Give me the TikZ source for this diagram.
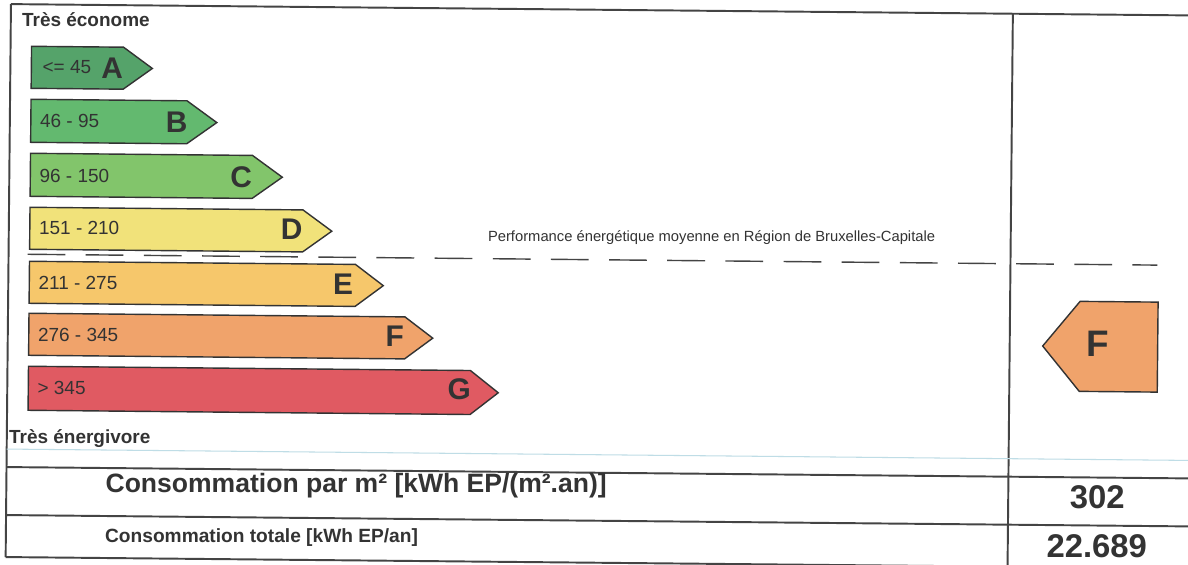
\documentclass[tikz,border=0pt]{standalone}
\usepackage{fontspec}
\setmainfont{Liberation Sans}
\definecolor{colA}{HTML}{55A36A}
\definecolor{colB}{HTML}{63B96F}
\definecolor{colC}{HTML}{82C56B}
\definecolor{colD}{HTML}{F1E27A}
\definecolor{colE}{HTML}{F6C76B}
\definecolor{colF}{HTML}{F0A36B}
\definecolor{colG}{HTML}{E05A62}
\definecolor{cadre}{HTML}{444444}
\definecolor{bleuclair}{HTML}{BFDDE6}
\definecolor{encre}{HTML}{333333}
\tikzset{
  bar/.style={draw=encre, line width=0.8pt, line join=miter},
  rng/.style={anchor=base west, inner sep=0pt, text=encre, font=\fontsize{10.8}{12}\selectfont},
  lettre/.style={anchor=base, inner sep=0pt, text=encre, font=\fontsize{17}{19}\selectfont\bfseries},
  titre/.style={anchor=base west, inner sep=0pt, text=encre, font=\fontsize{10.8}{12}\selectfont\bfseries},
  chiffre/.style={inner sep=0pt, text=encre, font=\fontsize{18.7}{20}\selectfont\bfseries},
  trait/.style={line width=1.1pt, cadre}
}
\begin{document}
\begin{tikzpicture}[x=0.02cm, y=-0.02cm]
\useasboundingbox (0,0) rectangle (1188,565);
\fill[white] (0,0) rectangle (1188,565);
\begin{scope}[rotate=-0.55]
% cadre
\draw[trait](11,4)--(1200,4);
\draw[trait](11,4)--(11,557);
\draw[trait](1013,4)--(1013,557);
\draw[line width=0.6pt, bleuclair](11,449)--(1200,449);
\draw[trait](11,467)--(1200,467);
\draw[trait](11,515)--(1200,515);
\draw[trait](11,557)--(1200,557);
% echelle
\node[titre] at (22,26) (top) {Très économe};
\draw[bar, fill=colA](32,46)--(124,46)--(153,67)--(124,88)--(32,88)--cycle;
\draw[bar, fill=colB](32,99)--(188,99)--(218,120.5)--(188,142)--(32,142)--cycle;
\draw[bar, fill=colC](32,153)--(254,153)--(284,174.5)--(254,196)--(32,196)--cycle;
\draw[bar, fill=colD](32,207)--(305,207)--(334,228)--(305,249)--(32,249)--cycle;
\draw[bar, fill=colE](32,261)--(358,261)--(386,282)--(358,303)--(32,303)--cycle;
\draw[bar, fill=colF](32,313)--(408,313)--(436,334)--(408,355)--(32,355)--cycle;
\draw[bar, fill=colG](32,366)--(474,366)--(502,388)--(474,410)--(32,410)--cycle;
\node[rng] at (43,73) (rA) {<= 45};
\node[rng] at (41,127) (rB) {46 - 95};
\node[rng] at (41,182) (rC) {96 - 150};
\node[rng] at (41,234) (rD) {151 - 210};
\node[rng] at (41,289) (rE) {211 - 275};
\node[rng] at (41,341) (rF) {276 - 345};
\node[rng] at (41,394) (rG) {> 345};
\node[lettre] at (113,77) (lA) {A};
\node[lettre] at (178,131) (lB) {B};
\node[lettre] at (243,185) (lC) {C};
\node[lettre] at (294,237) (lD) {D};
\node[lettre] at (346,291) (lE) {E};
\node[lettre] at (398,343) (lF) {F};
\node[lettre] at (463,395.5) (lG) {G};
\node[titre] at (13,443) (bas) {Très énergivore};
% moyenne Bruxelles
\draw[line width=0.8pt, cadre, dash pattern=on 21.5pt off 11.6pt](30,254)--(1160,254);
\node[anchor=base west, inner sep=0pt, text=encre, font=\fontsize{8.4}{10}\selectfont] at (490,237) (moy) {Performance énergétique moyenne en Région de Bruxelles-Capitale};
% classe du batiment
\draw[bar, fill=colF](1161,291)--(1083,291)--(1046,336)--(1083,381)--(1161,381)--cycle;
\node[lettre, anchor=center, font=\fontsize{21}{23}\selectfont\bfseries] at (1101,333) (classe) {F};
% consommations
\node[titre, font=\fontsize{15.1}{17}\selectfont\bfseries] at (110,491) (cm2) {Consommation par m² [kWh EP/(m².an)]};
\node[titre, font=\fontsize{10.9}{12}\selectfont\bfseries] at (110,541) (ctot) {Consommation totale [kWh EP/an]};
\node[chiffre] at (1102,487) (v1) {302};
\node[chiffre] at (1102,536) (v2) {22.689};
\end{scope}
\end{tikzpicture}
\end{document}
